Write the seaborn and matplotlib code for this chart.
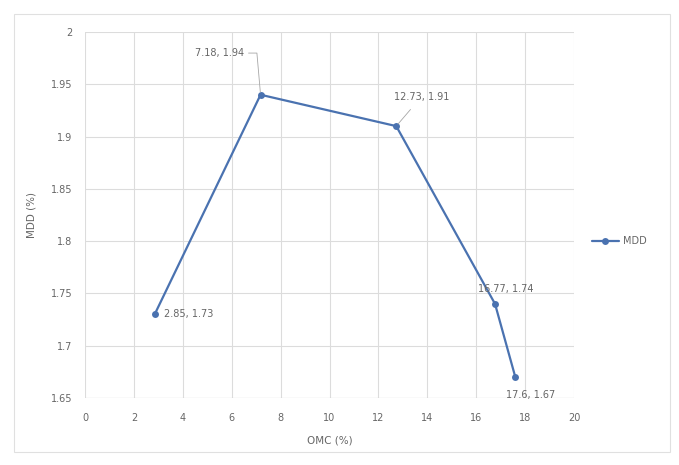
import matplotlib
matplotlib.use("Agg")
import matplotlib.pyplot as plt
import seaborn as sns
import pandas as pd
from matplotlib.patches import Rectangle

omc = [2.85, 7.18, 12.73, 16.77, 17.6]
mdd = [1.73, 1.94, 1.91, 1.74, 1.67]
series_name = "MDD"
x_ticks = [0, 2, 4, 6, 8, 10, 12, 14, 16, 18, 20]
y_ticks = [1.65, 1.7, 1.75, 1.8, 1.85, 1.9, 1.95, 2]
y_tick_labels = ["1.65", "1.7", "1.75", "1.8", "1.85", "1.9", "1.95", "2"]

df = pd.DataFrame({"OMC (%)": omc, "MDD (%)": mdd, "series": series_name})

sns.set_theme(style="white")
plt.rcParams["font.family"] = ["DejaVu Sans"]

line_color = "#4a72b0"
text_color = "#666666"
grid_color = "#dcdcdc"

fig = plt.figure(figsize=(6.79, 4.65), dpi=100)
fig.patch.set_facecolor("white")
# chart frame
fig.patches.append(Rectangle((14 / 679, 1 - 452 / 465), (670 - 14) / 679, (452 - 14) / 465,
                             transform=fig.transFigure, fill=False,
                             edgecolor="#e0e0e0", linewidth=0.8))

ax = fig.add_axes([85 / 679, 1 - 398 / 465, (574 - 85) / 679, (398 - 32) / 465])
sns.lineplot(data=df, x="OMC (%)", y="MDD (%)", hue="series", palette=[line_color],
             marker="o", markersize=5, markeredgewidth=0, linewidth=1.6,
             sort=False, ax=ax, legend=True)

ax.set_xlim(0, 20)
ax.set_ylim(1.65, 2.0)
ax.set_xticks(x_ticks)
ax.set_yticks(y_ticks)
ax.set_yticklabels(y_tick_labels)
ax.tick_params(axis="x", labelsize=7, colors=text_color, length=0, pad=11)
ax.tick_params(axis="y", labelsize=7, colors=text_color, length=0, pad=9)
ax.grid(True, color=grid_color, linewidth=0.8)
ax.set_axisbelow(True)
for s in ax.spines.values():
    s.set_visible(False)
ax.axhline(1.65, color="#bfbfbf", linewidth=0.8, zorder=1)
ax.set_xlabel("OMC (%)", fontsize=7.5, color=text_color, labelpad=9)
ax.set_ylabel("MDD (%)", fontsize=7.5, color=text_color, labelpad=10)

# value labels
lbl = dict(fontsize=7, color=text_color)
def tag(x, y):
    return f"{x:g}, {y:g}"

ax.annotate(tag(omc[1], mdd[1]), xy=(omc[1], mdd[1]), xytext=(-12, 30),
            textcoords="offset points", ha="right", va="center",
            arrowprops=dict(arrowstyle="-", color="#a6a6a6", linewidth=0.6,
                            connectionstyle="angle,angleA=0,angleB=95,rad=0",
                            shrinkA=1, shrinkB=2), **lbl)
ax.annotate(tag(omc[2], mdd[2]), xy=(omc[2], mdd[2]), xytext=(18, 21),
            textcoords="offset points", ha="center", va="center",
            arrowprops=dict(arrowstyle="-", color="#a6a6a6", linewidth=0.6,
                            shrinkA=4, shrinkB=2), **lbl)
ax.annotate(tag(omc[0], mdd[0]), xy=(omc[0], mdd[0]), xytext=(7, 0),
            textcoords="offset points", ha="left", va="center", **lbl)
ax.annotate(tag(omc[3], mdd[3]), xy=(omc[3], mdd[3]), xytext=(8, 11),
            textcoords="offset points", ha="center", va="center", **lbl)
ax.annotate(tag(omc[4], mdd[4]), xy=(omc[4], mdd[4]), xytext=(11, -13),
            textcoords="offset points", ha="center", va="center", **lbl)

leg = ax.legend(loc="center left", bbox_to_anchor=(583 / 679, 1 - 241 / 465),
                bbox_transform=fig.transFigure, frameon=False,
                fontsize=7, handlelength=2.8, handletextpad=0.4,
                labelcolor=text_color)

fig.savefig("out.png", dpi=100)
